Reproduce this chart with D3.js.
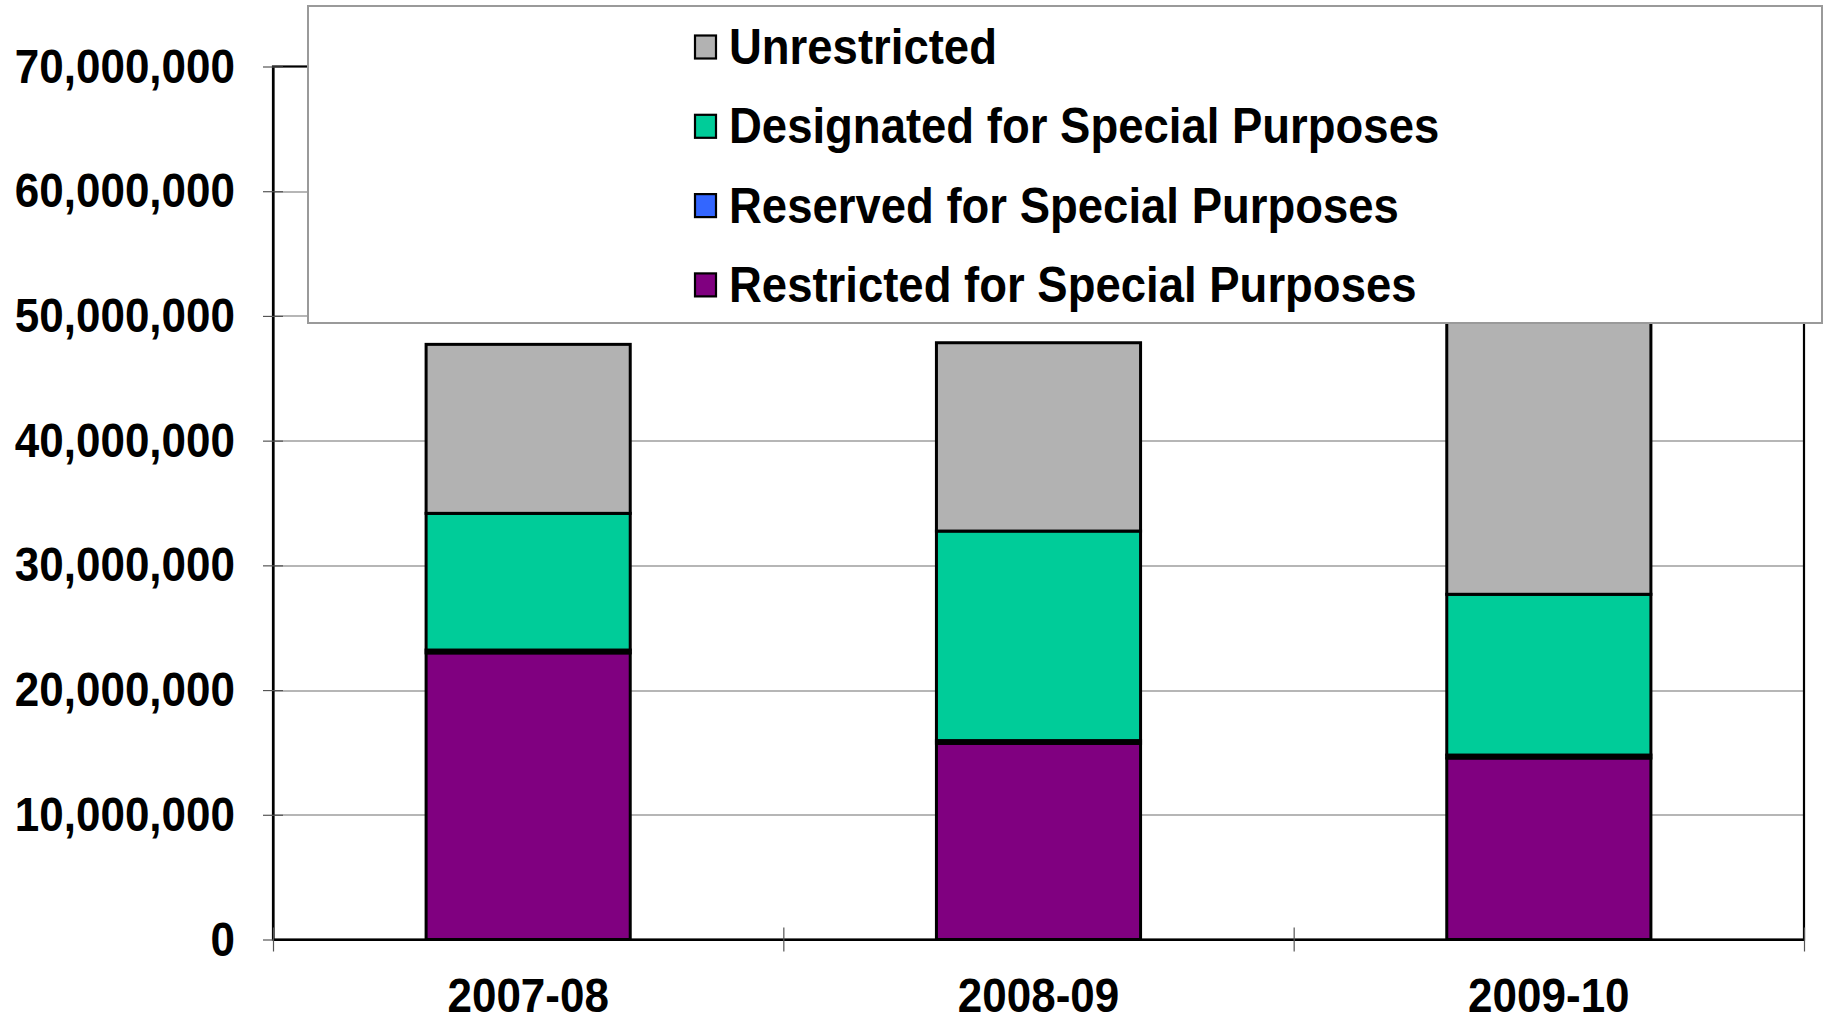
<!DOCTYPE html>
<html>
<head>
<meta charset="utf-8">
<script src="https://cdn.jsdelivr.net/npm/d3@7"></script>
<style>
body { margin:0; background:#fff; }
text { font-family:"Liberation Sans", Arial, sans-serif; font-weight:bold; }
</style>
</head>
<body>
<svg id="chart"></svg>
<script>
// chart data
var years = ["2007-08","2008-09","2009-10"];
var restricted   = [22980000, 15730000, 14550000];
var reserved     = [  230000,   220000,   240000];
var designated   = [10960000, 16800000, 12890000];
var unrestricted = [13550000, 15100000, 28000000];
var yTicks = [0,10000000,20000000,30000000,40000000,50000000,60000000,70000000];

var seriesNames = ["Restricted for Special Purposes","Reserved for Special Purposes",
                   "Designated for Special Purposes","Unrestricted"];
var colors = ["#800080","#3366FF","#00CC99","#B2B2B2"];

var screen = {width:1830, height:1024};
var margins = {top:66.5, left:273, right:26, bottom:84.5};
var graph = {
    width: screen.width-margins.left-margins.right,
    height: screen.height-margins.top-margins.bottom
};

var svg = d3.select("#chart")
    .attr("width",screen.width)
    .attr("height",screen.height);

//build the stacked table
var table = years.map(function(y,i)
{
    return {year:y, s0:restricted[i], s1:reserved[i], s2:designated[i], s3:unrestricted[i]};
});
var stack = d3.stack().keys(["s0","s1","s2","s3"])(table);

var xScale = d3.scaleBand()
    .domain(years)
    .range([0,graph.width])
    .paddingInner(0.6)
    .paddingOuter(0.3);

var yScale = d3.scaleLinear()
    .domain([0,70000000])
    .range([graph.height,0]);

var g = svg.append("g")
    .attr("transform","translate("+margins.left+","+margins.top+")");

//gridlines
g.append("g")
    .selectAll("line")
    .data(yTicks.slice(1,-1))
    .enter()
    .append("line")
    .attr("x1",0)
    .attr("x2",graph.width)
    .attr("y1",function(d){return Math.round(yScale(d))+0.5;})
    .attr("y2",function(d){return Math.round(yScale(d))+0.5;})
    .attr("stroke","#6e6e6e")
    .attr("stroke-width",1.2);

//frame
g.append("rect")
    .attr("x",0).attr("y",0)
    .attr("width",graph.width)
    .attr("height",graph.height)
    .attr("fill","none")
    .attr("stroke","#000")
    .attr("stroke-width",2.2);

//bars
g.append("g")
    .selectAll("g")
    .data(stack)
    .enter()
    .append("g")
    .attr("fill",function(d,i){return colors[i];})
    .selectAll("rect")
    .data(function(d){return d;})
    .enter()
    .append("rect")
    .attr("x",function(d){return xScale(d.data.year);})
    .attr("width",xScale.bandwidth())
    .attr("y",function(d){return yScale(d[1]);})
    .attr("height",function(d){return yScale(d[0])-yScale(d[1]);})
    .attr("stroke","#000")
    .attr("stroke-width",3);

//y axis
var yAxis = d3.axisLeft(yScale)
    .tickValues(yTicks)
    .tickFormat(d3.format(","))
    .tickSizeInner(10)
    .tickSizeOuter(0)
    .tickPadding(28);

var ya = g.append("g").call(yAxis);
ya.select(".domain").attr("stroke","#000").attr("stroke-width",2.2);
ya.selectAll(".tick line").attr("x1",10).attr("stroke","#555").attr("stroke-width",1.2);
ya.selectAll(".tick text")
    .attr("fill","#000")
    .style("font-size","44px")
    .attr("transform","scale(1,1.1)");

//category boundary ticks
var bScale = d3.scaleLinear().domain([0,3]).range([0,graph.width]);
var xTickAxis = d3.axisBottom(bScale)
    .tickValues([0,1,2,3])
    .tickFormat("")
    .tickSizeOuter(0)
    .tickSizeInner(12);
var xt = g.append("g")
    .attr("transform","translate(0,"+graph.height+")")
    .call(xTickAxis);
xt.select(".domain").attr("stroke","#000").attr("stroke-width",2.2);
xt.selectAll(".tick line").attr("y1",-12).attr("stroke","#555").attr("stroke-width",1.2);

//category labels
var xAxis = d3.axisBottom(xScale).tickSize(0);
var xa = g.append("g")
    .attr("transform","translate(0,"+graph.height+")")
    .call(xAxis);
xa.select(".domain").remove();
xa.selectAll(".tick text")
    .attr("fill","#000")
    .attr("y",66)
    .attr("dy",0)
    .style("font-size","44px")
    .attr("transform","scale(1,1.1)");

//legend
var legend = svg.append("g");
legend.append("rect")
    .attr("x",308).attr("y",6)
    .attr("width",1514).attr("height",317)
    .attr("fill","#fff")
    .attr("stroke","#9a9a9a")
    .attr("stroke-width",2);

var legendOrder = [3,2,1,0];
var items = legend.selectAll("g.item")
    .data(legendOrder)
    .enter()
    .append("g")
    .classed("item",true)
    .attr("transform",function(d,i){return "translate(694,"+(47+i*79.3)+")";});

items.append("rect")
    .attr("x",1).attr("y",-11.5)
    .attr("width",21).attr("height",23)
    .attr("fill",function(d){return colors[d];})
    .attr("stroke","#000")
    .attr("stroke-width",2.2);

items.append("text")
    .attr("x",35)
    .attr("y",15.5)
    .attr("fill","#000")
    .style("font-size","45.5px")
    .attr("transform","scale(1,1.1)")
    .text(function(d){return seriesNames[d];});
</script>
</body>
</html>
